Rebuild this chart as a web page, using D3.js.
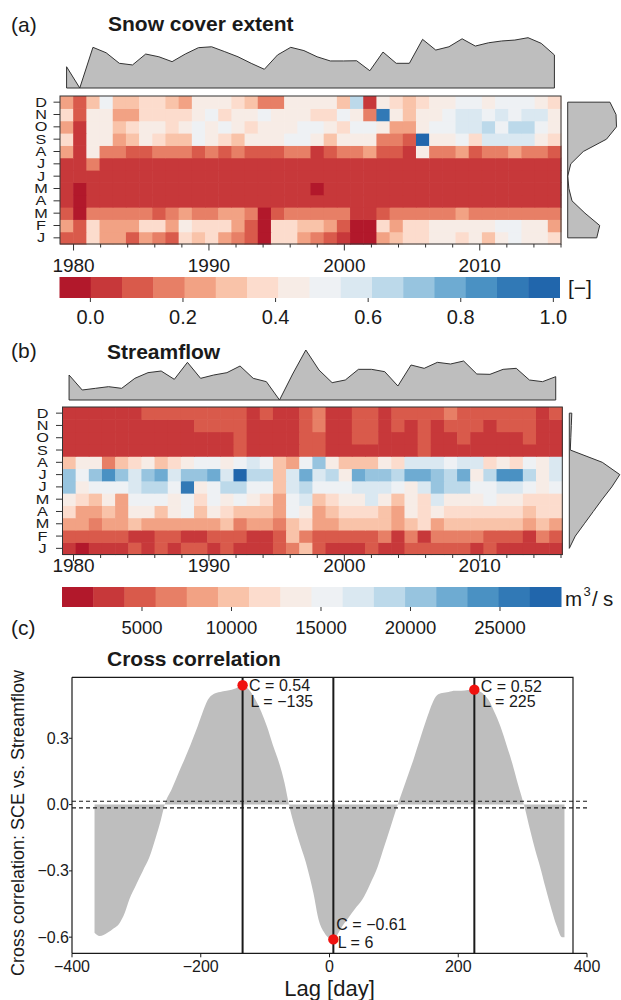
<!DOCTYPE html>
<html><head><meta charset="utf-8">
<script src="https://cdn.jsdelivr.net/npm/d3@7/dist/d3.min.js"></script>
<style>
body{margin:0;background:#fff}
svg{display:block}
text{font-family:"Liberation Sans",Arial,Helvetica,sans-serif;fill:#1a1a1a}
</style>
</head><body>
<svg id="chart" width="621" height="1000"></svg>
<script>
// ---------------- DATA ----------------
const years = [1979,1980,1981,1982,1983,1984,1985,1986,1987,1988,1989,1990,1991,1992,1993,1994,1995,1996,1997,1998,1999,2000,2001,2002,2003,2004,2005,2006,2007,2008,2009,2010,2011,2012,2013,2014,2015,2016];
const monthLabels = ["J","F","M","A","M","J","J","A","S","O","N","D"];
const yearTicks = [1980,1982,1984,1986,1988,1990,1992,1994,1996,1998,2000,2002,2004,2006,2008,2010,2012,2014,2016];
const yearLabels = [1980,1990,2000,2010];

// Snow cover extent [-], one array per month (columns = years)
const sceJan = [.10,.10,.37,.23,.23,.10,.23,.17,.10,.37,.30,.37,.23,.17,.10,0,.37,.37,.23,.17,.10,.03,0,0,.23,.30,.37,.37,.43,.43,.37,.43,.30,.43,.50,.43,.43,.37];
const sceFeb = [.23,.10,.37,.23,.23,.23,.37,.37,.23,.43,.37,.37,.37,.23,.10,0,.37,.37,.30,.30,.23,.10,0,0,.37,.23,.37,.37,.43,.43,.43,.43,.43,.50,.50,.43,.43,.23];
const sceMar = [.10,0,.17,.17,.17,.17,.17,.10,.17,.23,.17,.17,.23,.23,.17,0,.10,.17,.17,.17,.17,.17,.03,.03,.10,.17,.17,.17,.17,.17,.23,.17,.17,.17,.17,.17,.17,.17];
const sceApr = [.03,0,.03,.03,.03,.03,.03,.03,.03,.03,.03,.03,.03,.03,.03,.03,.03,.03,.03,.03,.03,.03,.03,.03,.03,.03,.03,.03,.03,.03,.03,.03,.03,.03,.03,.03,.03,.03];
const sceMay = [.03,0,.03,.03,.03,.03,.03,.03,.03,.03,.03,.03,.03,.03,.03,.03,.03,.03,.03,0,.03,.03,.03,.03,.03,.03,.03,.03,.03,.03,.03,.03,.03,.03,.03,.03,.03,.03];
const sceJun = [.03,.03,.03,.03,.03,.03,.03,.03,.03,.03,.03,.03,.03,.03,.03,.03,.03,.03,.03,.03,.03,.03,.03,.03,.03,.03,.03,.03,.03,.03,.03,.03,.03,.03,.03,.03,.03,.03];
const sceJul = [.03,.03,.17,.03,.03,.03,.03,.03,.03,.03,.03,.03,.03,.03,.03,.03,.03,.03,.03,.03,.03,.03,.03,.03,.03,.03,.03,.03,.03,.03,.03,.03,.03,.03,.03,.03,.03,.03];
const sceAug = [.23,.03,.43,.17,.17,.10,.10,.17,.17,.17,.10,.17,.10,.17,.10,.10,.10,.17,.17,.03,.10,.17,.17,.23,.10,.10,.03,.43,.17,.17,.23,.10,.17,.17,.23,.17,.17,.10];
const sceSep = [.37,.03,.43,.43,.23,.30,.43,.37,.30,.30,.50,.43,.37,.30,.43,.43,.43,.50,.50,.43,.30,.43,.43,.43,.17,.17,.10,.97,.43,.43,.50,.37,.57,.57,.57,.57,.43,.37];
const sceOct = [.23,.03,.43,.43,.30,.37,.43,.43,.37,.43,.50,.43,.50,.43,.37,.43,.43,.43,.50,.50,.43,.37,.50,.50,.43,.23,.23,.43,.50,.50,.57,.57,.63,.50,.63,.63,.50,.43];
const sceNov = [.37,.10,.43,.43,.23,.23,.37,.37,.37,.37,.43,.50,.37,.43,.43,.50,.43,.43,.43,.37,.37,.50,.43,.17,.90,.43,.30,.43,.43,.50,.57,.57,.50,.57,.50,.57,.57,.43];
const sceDec = [.23,.10,.30,.50,.30,.30,.37,.37,.30,.23,.43,.43,.43,.37,.30,.17,.17,.43,.43,.43,.43,.30,.63,.03,.43,.37,.30,.37,.43,.43,.50,.50,.43,.50,.50,.50,.43,.37];
// marginal means of SCE
const sceAnnual = [.167,.050,.274,.244,.186,.177,.237,.222,.195,.237,.272,.277,.250,.222,.186,.153,.232,.274,.256,.222,.199,.199,.200,.145,.248,.186,.186,.318,.259,.277,.321,.281,.299,.309,.314,.327,.296,.232];
const sceMonthly = [.274,.299,.175,.066,.040,.030,.056,.161,.356,.440,.436,.385]; // Jan..Dec

// Streamflow [m3/s]
const flowJan = [3100,1400,3100,3100,3100,4900,3100,4900,3100,4900,4900,3100,4900,3100,3100,3100,4900,6600,10100,4900,3100,3100,3100,4900,3100,3100,4900,4900,4900,4900,4900,3100,4900,3100,3100,3100,3100,3100];
const flowFeb = [4900,4900,4900,4900,4900,3100,3100,4900,4900,3100,3100,4900,4900,4900,3100,3100,4900,10100,6600,4900,4900,4900,4900,4900,6600,3100,6600,3100,6600,6600,6600,6600,4900,4900,4900,3100,6600,4900];
const flowMar = [8400,8400,6600,8400,8400,10100,8400,8400,8400,8400,8400,8400,10100,6600,8400,8400,6600,10100,11900,8400,8400,10100,10100,10100,10100,8400,10100,11900,8400,10100,10100,10100,10100,10100,10100,8400,10100,8400];
const flowApr = [11900,8400,8400,10100,8400,13600,13600,10100,13600,15300,10100,13600,11900,10100,10100,10100,8400,15300,13600,8400,10100,11900,11900,11900,10100,8400,13600,11900,13600,11900,11900,11900,11900,11900,11900,10100,11900,11900];
const flowMay = [13600,11900,10100,13600,8400,15300,15300,15300,13600,15300,11900,15300,13600,15300,13600,11900,8400,15300,17100,10100,11900,13600,13600,17100,13600,10100,13600,11900,17100,13600,13600,13600,15300,13600,13600,11900,11900,11900];
const flowJun = [20600,13600,15300,15300,15300,17100,18800,18800,15300,25800,13600,15300,18800,18800,15300,15300,10100,17100,18800,15300,15300,15300,17100,17100,17100,15300,13600,17100,20600,18800,18800,15300,15300,17100,17100,15300,13600,15300];
const flowJul = [20600,15300,20600,24000,20600,17100,20600,22300,17100,20600,20600,22300,17100,27500,18800,18800,10100,17100,22300,17100,18800,13600,22300,20600,20600,18800,22300,22300,20600,18800,22300,13600,18800,24000,24000,18800,13600,17100];
const flowAug = [10100,13600,13600,6600,10100,11900,13600,10100,11900,13600,15300,15300,13600,15300,17100,15300,10100,8400,15300,20600,13600,10100,10100,10100,13600,11900,17100,17100,17100,15300,17100,17100,11900,13600,11900,15300,13600,17100];
const flowSep = [3100,3100,3100,3100,3100,3100,3100,3100,3100,3100,3100,3100,3100,4900,3100,3100,3100,3100,4900,4900,3100,3100,3100,3100,3100,3100,3100,4900,3100,3100,3100,3100,3100,3100,3100,3100,3100,3100];
const flowOct = [3100,3100,3100,3100,3100,3100,3100,3100,3100,3100,3100,3100,3100,4900,3100,3100,3100,3100,4900,4900,3100,3100,4900,4900,3100,3100,3100,4900,3100,3100,4900,3100,3100,3100,3100,4900,3100,3100];
const flowNov = [3100,3100,3100,3100,3100,3100,3100,3100,3100,3100,4900,4900,4900,4900,3100,3100,3100,3100,4900,6600,3100,3100,4900,4900,3100,4900,3100,4900,3100,4900,4900,4900,3100,4900,4900,4900,3100,3100];
const flowDec = [3100,3100,3100,3100,3100,3100,4900,4900,4900,4900,4900,4900,4900,4900,3100,4900,3100,3100,4900,6600,3100,3100,4900,4900,3100,4900,4900,4900,4900,6600,4900,4900,4900,4900,4900,4900,3100,4900];
const flowAnnual = [9500,8600,8700,8800,8700,9300,9640,9740,9240,10260,9300,9500,9640,10040,9300,9100,8000,9560,11000,9800,9040,9200,9840,9840,9700,8840,10100,9900,10260,10160,10340,9560,9540,9840,9900,9200,9100,9400];
const flowMonthly = [3000,4800,7500,10200,12900,15750,18150,12900,3300,3450,3600,3750]; // Jan..Dec

// colour-bar ranges and ticks
const sceRange = [-0.0667, 1.0133];
const sceTicks = [0, 0.2, 0.4, 0.6, 0.8, 1.0];
const flowRange = [531, 28408];
const flowTicks = [5000, 10000, 15000, 20000, 25000];

// Cross correlation SCE vs streamflow
const lags = [-365,-357,-345,-335,-327,-318,-311,-300,-290,-280,-270,-262,-256,-245,-235,-226,-216,-207,-198,-189,-180,-170,-160,-152,-145,-135,-125,-115,-106,-97,-88,-78,-70,-63,-50,-35,-25,-17,-8,0,6,12,20,30,40,51,63,75,85,95,106,118,130,141,152,160,167,175,185,195,205,215,225,235,247,256,266,275,284,293,302,312,320,327,335,345,353,361,365];
const ccf = [-0.58,-0.595,-0.58,-0.56,-0.54,-0.49,-0.43,-0.36,-0.30,-0.24,-0.15,-0.07,0,0.07,0.14,0.20,0.27,0.337,0.41,0.474,0.50,0.51,0.515,0.52,0.527,0.54,0.52,0.474,0.42,0.352,0.27,0.186,0.10,0,-0.14,-0.28,-0.40,-0.52,-0.58,-0.605,-0.61,-0.59,-0.55,-0.51,-0.47,-0.43,-0.36,-0.28,-0.19,-0.10,0,0.10,0.20,0.30,0.397,0.46,0.495,0.505,0.51,0.515,0.515,0.518,0.52,0.51,0.474,0.42,0.35,0.27,0.186,0.09,0,-0.12,-0.21,-0.28,-0.37,-0.476,-0.55,-0.60,-0.60];
const extremes = [{lag:-135, c:0.54}, {lag:225, c:0.52}, {lag:6, c:-0.61}];
const ciBound = 0.015;
const ccXTicks = [-400,-200,0,200,400];
const ccYTicks = [0.3, 0.0, -0.3, -0.6];

// ---------------- STYLE ----------------
const palette = ["#b2182b","#c7383a","#d95a4b","#e77f66","#f2a284","#f9c3a9","#fcdccd","#f7ece6","#eef1f4","#dae8f1","#bcd9ea","#97c4df","#6eabd2","#4a91c3","#3179b6","#2166ac"];
const GREY = "#bebebe", INK = "#1a1a1a", LINE = "#333";
const svg = d3.select("#chart");
const fmtMinus = s => s.replace("-", "\u2212");

function label(x, y, txt, size, opts = {}) {
  return svg.append("text").attr("x", x).attr("y", y).text(txt)
    .attr("font-size", size).attr("font-weight", opts.bold ? "bold" : null)
    .attr("text-anchor", opts.anchor || "start");
}

function heatPanel(o) {
  const g = svg.append("g");
  const x = d3.scaleBand().domain(years).range([o.x0, o.x1]);
  const monthOrder = [11,10,9,8,7,6,5,4,3,2,1,0];
  const y = d3.scaleBand().domain(monthOrder).range([o.y0, o.y1]);
  const bw = x.bandwidth(), bh = y.bandwidth();
  o.matrix.forEach((row, m) => row.forEach((v, i) => {
    g.append("rect").attr("x", x(years[i])).attr("y", y(m))
      .attr("width", bw + 0.6).attr("height", bh + 0.6)
      .attr("fill", o.color(v));
  }));
  g.append("rect").attr("x", o.x0).attr("y", o.y0).attr("width", o.x1 - o.x0).attr("height", o.y1 - o.y0)
    .attr("fill", "none").attr("stroke", LINE).attr("stroke-width", 1);
  // month axis
  monthOrder.forEach(m => {
    const cy = y(m) + bh / 2;
    g.append("line").attr("x1", o.x0 - 6.5).attr("x2", o.x0).attr("y1", cy).attr("y2", cy).attr("stroke", LINE);
    g.append("text").attr("transform", `translate(${o.labX},${cy + 4.6}) scale(1.12,0.84)`)
      .attr("text-anchor", "middle").attr("font-size", 14.5).text(monthLabels[m]);
  });
  // year axis
  const xa = d3.scaleLinear().domain([1979, 2016]).range([60, 561]);
  yearTicks.forEach(t => {
    const major = yearLabels.includes(t);
    g.append("line").attr("x1", xa(t)).attr("x2", xa(t)).attr("y1", o.y1).attr("y2", o.y1 + (major ? 6.5 : 3.5)).attr("stroke", LINE);
  });
  yearLabels.forEach(t => g.append("text").attr("x", xa(t)).attr("y", o.yearY).attr("text-anchor", "middle").attr("font-size", 19).text(t));
  // top marginal
  const ym = d3.scaleLinear().domain(d3.extent(o.annual)).range([o.mBase, o.mTop]);
  const pts = o.annual.map((v, i) => [x(years[i]) + bw / 2, ym(v)]);
  const top = [[pts[0][0], o.mBase], ...pts, [pts[pts.length - 1][0], o.mBase]];
  g.append("path").attr("d", d3.line()(top) + "Z").attr("fill", GREY).attr("stroke", LINE).attr("stroke-width", 1).attr("stroke-linejoin", "round");
  // right marginal
  const xm = d3.scaleLinear().domain(d3.extent(o.monthly)).range([o.rx0, o.rx1]);
  const rp = monthOrder.map(m => [xm(o.monthly[m]), y(m) + bh / 2]);
  const right = [[o.rx0, rp[0][1]], ...rp, [o.rx0, rp[rp.length - 1][1]]];
  g.append("path").attr("d", d3.line()(right) + "Z").attr("fill", GREY).attr("stroke", LINE).attr("stroke-width", 1).attr("stroke-linejoin", "round");
  // colour bar
  const cs = d3.scaleLinear().domain(o.cRange).range([o.cx0, o.cx1]);
  const step = (o.cx1 - o.cx0) / palette.length;
  palette.forEach((c, i) => g.append("rect").attr("x", o.cx0 + i * step).attr("y", o.cy0)
    .attr("width", step + 0.5).attr("height", o.cy1 - o.cy0).attr("fill", c));
  o.cTicks.forEach(t => {
    g.append("line").attr("x1", cs(t)).attr("x2", cs(t)).attr("y1", o.cy1).attr("y2", o.cy1 + 4).attr("stroke", LINE);
    g.append("text").attr("x", cs(t)).attr("y", o.cLabY).attr("text-anchor", "middle").attr("font-size", o.cFont).text(o.cFmt(t));
  });
}

const sceColor = d3.scaleQuantize().domain(sceRange).range(palette);
const flowColor = d3.scaleQuantize().domain(flowRange).range(palette);

// Panel (a)
label(11, 32, "(a)", 21);
label(108, 31, "Snow cover extent", 21, {bold: true});
heatPanel({
  matrix: [sceJan,sceFeb,sceMar,sceApr,sceMay,sceJun,sceJul,sceAug,sceSep,sceOct,sceNov,sceDec],
  color: sceColor, annual: sceAnnual, monthly: sceMonthly,
  x0: 60, x1: 561, y0: 96, y1: 244, labX: 41, yearY: 272,
  mBase: 88, mTop: 37.7, rx0: 567.7, rx1: 616.5,
  cRange: sceRange, cTicks: sceTicks, cx0: 59.5, cx1: 559.5, cy0: 277, cy1: 298,
  cLabY: 324, cFont: 20, cFmt: d3.format(".1f")
});
label(568, 295, "[\u2212]", 21);

// Panel (b)
label(11, 358, "(b)", 21);
label(107, 359, "Streamflow", 21, {bold: true});
heatPanel({
  matrix: [flowJan,flowFeb,flowMar,flowApr,flowMay,flowJun,flowJul,flowAug,flowSep,flowOct,flowNov,flowDec],
  color: flowColor, annual: flowAnnual, monthly: flowMonthly,
  x0: 62.5, x1: 562.3, y0: 407, y1: 554.5, labX: 42.5, yearY: 572,
  mBase: 400, mTop: 350, rx0: 569.3, rx1: 619.8,
  cRange: flowRange, cTicks: flowTicks, cx0: 62, cx1: 561, cy0: 587, cy1: 607,
  cLabY: 633.5, cFont: 18.5, cFmt: d3.format("d")
});
label(565, 606, "m", 20.5);
label(583.5, 596, "3", 13);
label(592, 606, "/", 20.5);
label(603, 606, "s", 20.5);

// Panel (c)
label(11, 635, "(c)", 21);
label(107, 666, "Cross correlation", 21, {bold: true});
const cx = d3.scaleLinear().domain([-400, 400]).range([72, 587]);
const cy = d3.scaleLinear().domain([-0.673, 0.576]).range([953.3, 677.3]);
const frameR = 573, frameT = 677.3, frameB = 953.3, frameL = 72;
const ccData = lags.map((l, i) => ({l, v: ccf[i]}));
svg.append("path").datum(ccData)
  .attr("d", d3.area().x(d => cx(d.l)).y0(cy(0)).y1(d => cy(d.v)).curve(d3.curveMonotoneX))
  .attr("fill", GREY);
[ciBound, -ciBound].forEach(b => svg.append("line").attr("x1", frameL).attr("x2", cx(400)).attr("y1", cy(b)).attr("y2", cy(b))
  .attr("stroke", INK).attr("stroke-width", 1.2).attr("stroke-dasharray", "4,3"));
extremes.forEach(e => svg.append("line").attr("x1", cx(e.lag)).attr("x2", cx(e.lag)).attr("y1", frameT).attr("y2", frameB)
  .attr("stroke", INK).attr("stroke-width", 2));
// frame
svg.append("path").attr("d", `M${frameL},${frameT}H${frameR}V${frameB}`).attr("fill", "none").attr("stroke", INK).attr("stroke-width", 1.2);
svg.append("line").attr("x1", frameL).attr("x2", frameL).attr("y1", frameT).attr("y2", frameB).attr("stroke", INK).attr("stroke-width", 1.2);
svg.append("line").attr("x1", frameL).attr("x2", cx(400)).attr("y1", frameB).attr("y2", frameB).attr("stroke", INK).attr("stroke-width", 1.2);
ccXTicks.forEach(t => {
  svg.append("line").attr("x1", cx(t)).attr("x2", cx(t)).attr("y1", frameB).attr("y2", frameB + 4).attr("stroke", INK);
  label(cx(t), 971.5, fmtMinus(String(t)), 16, {anchor: "middle"});
});
ccYTicks.forEach(t => {
  svg.append("line").attr("x1", frameL - 3).attr("x2", frameL).attr("y1", cy(t)).attr("y2", cy(t)).attr("stroke", INK);
  label(frameL - 3, cy(t) + 5.5, fmtMinus(d3.format(".1f")(t)), 16, {anchor: "end"});
});
// extremes: dots and text
const annoOff = [{dx: 6.5, dy1: 6, dy2: 21.5}, {dx: 6.5, dy1: 2, dy2: 17}, {dx: 3, dy1: -9, dy2: 9}];
extremes.forEach((e, i) => {
  const px = cx(e.lag), py = cy(e.c);
  svg.append("circle").attr("cx", px).attr("cy", py).attr("r", 5.2).attr("fill", "#f0120f");
  label(px + annoOff[i].dx, py + annoOff[i].dy1, "C = " + fmtMinus(e.c.toFixed(2)), 16);
  label(px + annoOff[i].dx + 1.5, py + annoOff[i].dy2, "L = " + fmtMinus(String(e.lag)), 16);
});
label(329.5, 996, "Lag [day]", 22, {anchor: "middle"});
svg.append("text").attr("transform", "translate(24,823) rotate(-90)").attr("text-anchor", "middle")
  .attr("font-size", 18).text("Cross correlation: SCE vs. Streamflow");
</script>
</body></html>
